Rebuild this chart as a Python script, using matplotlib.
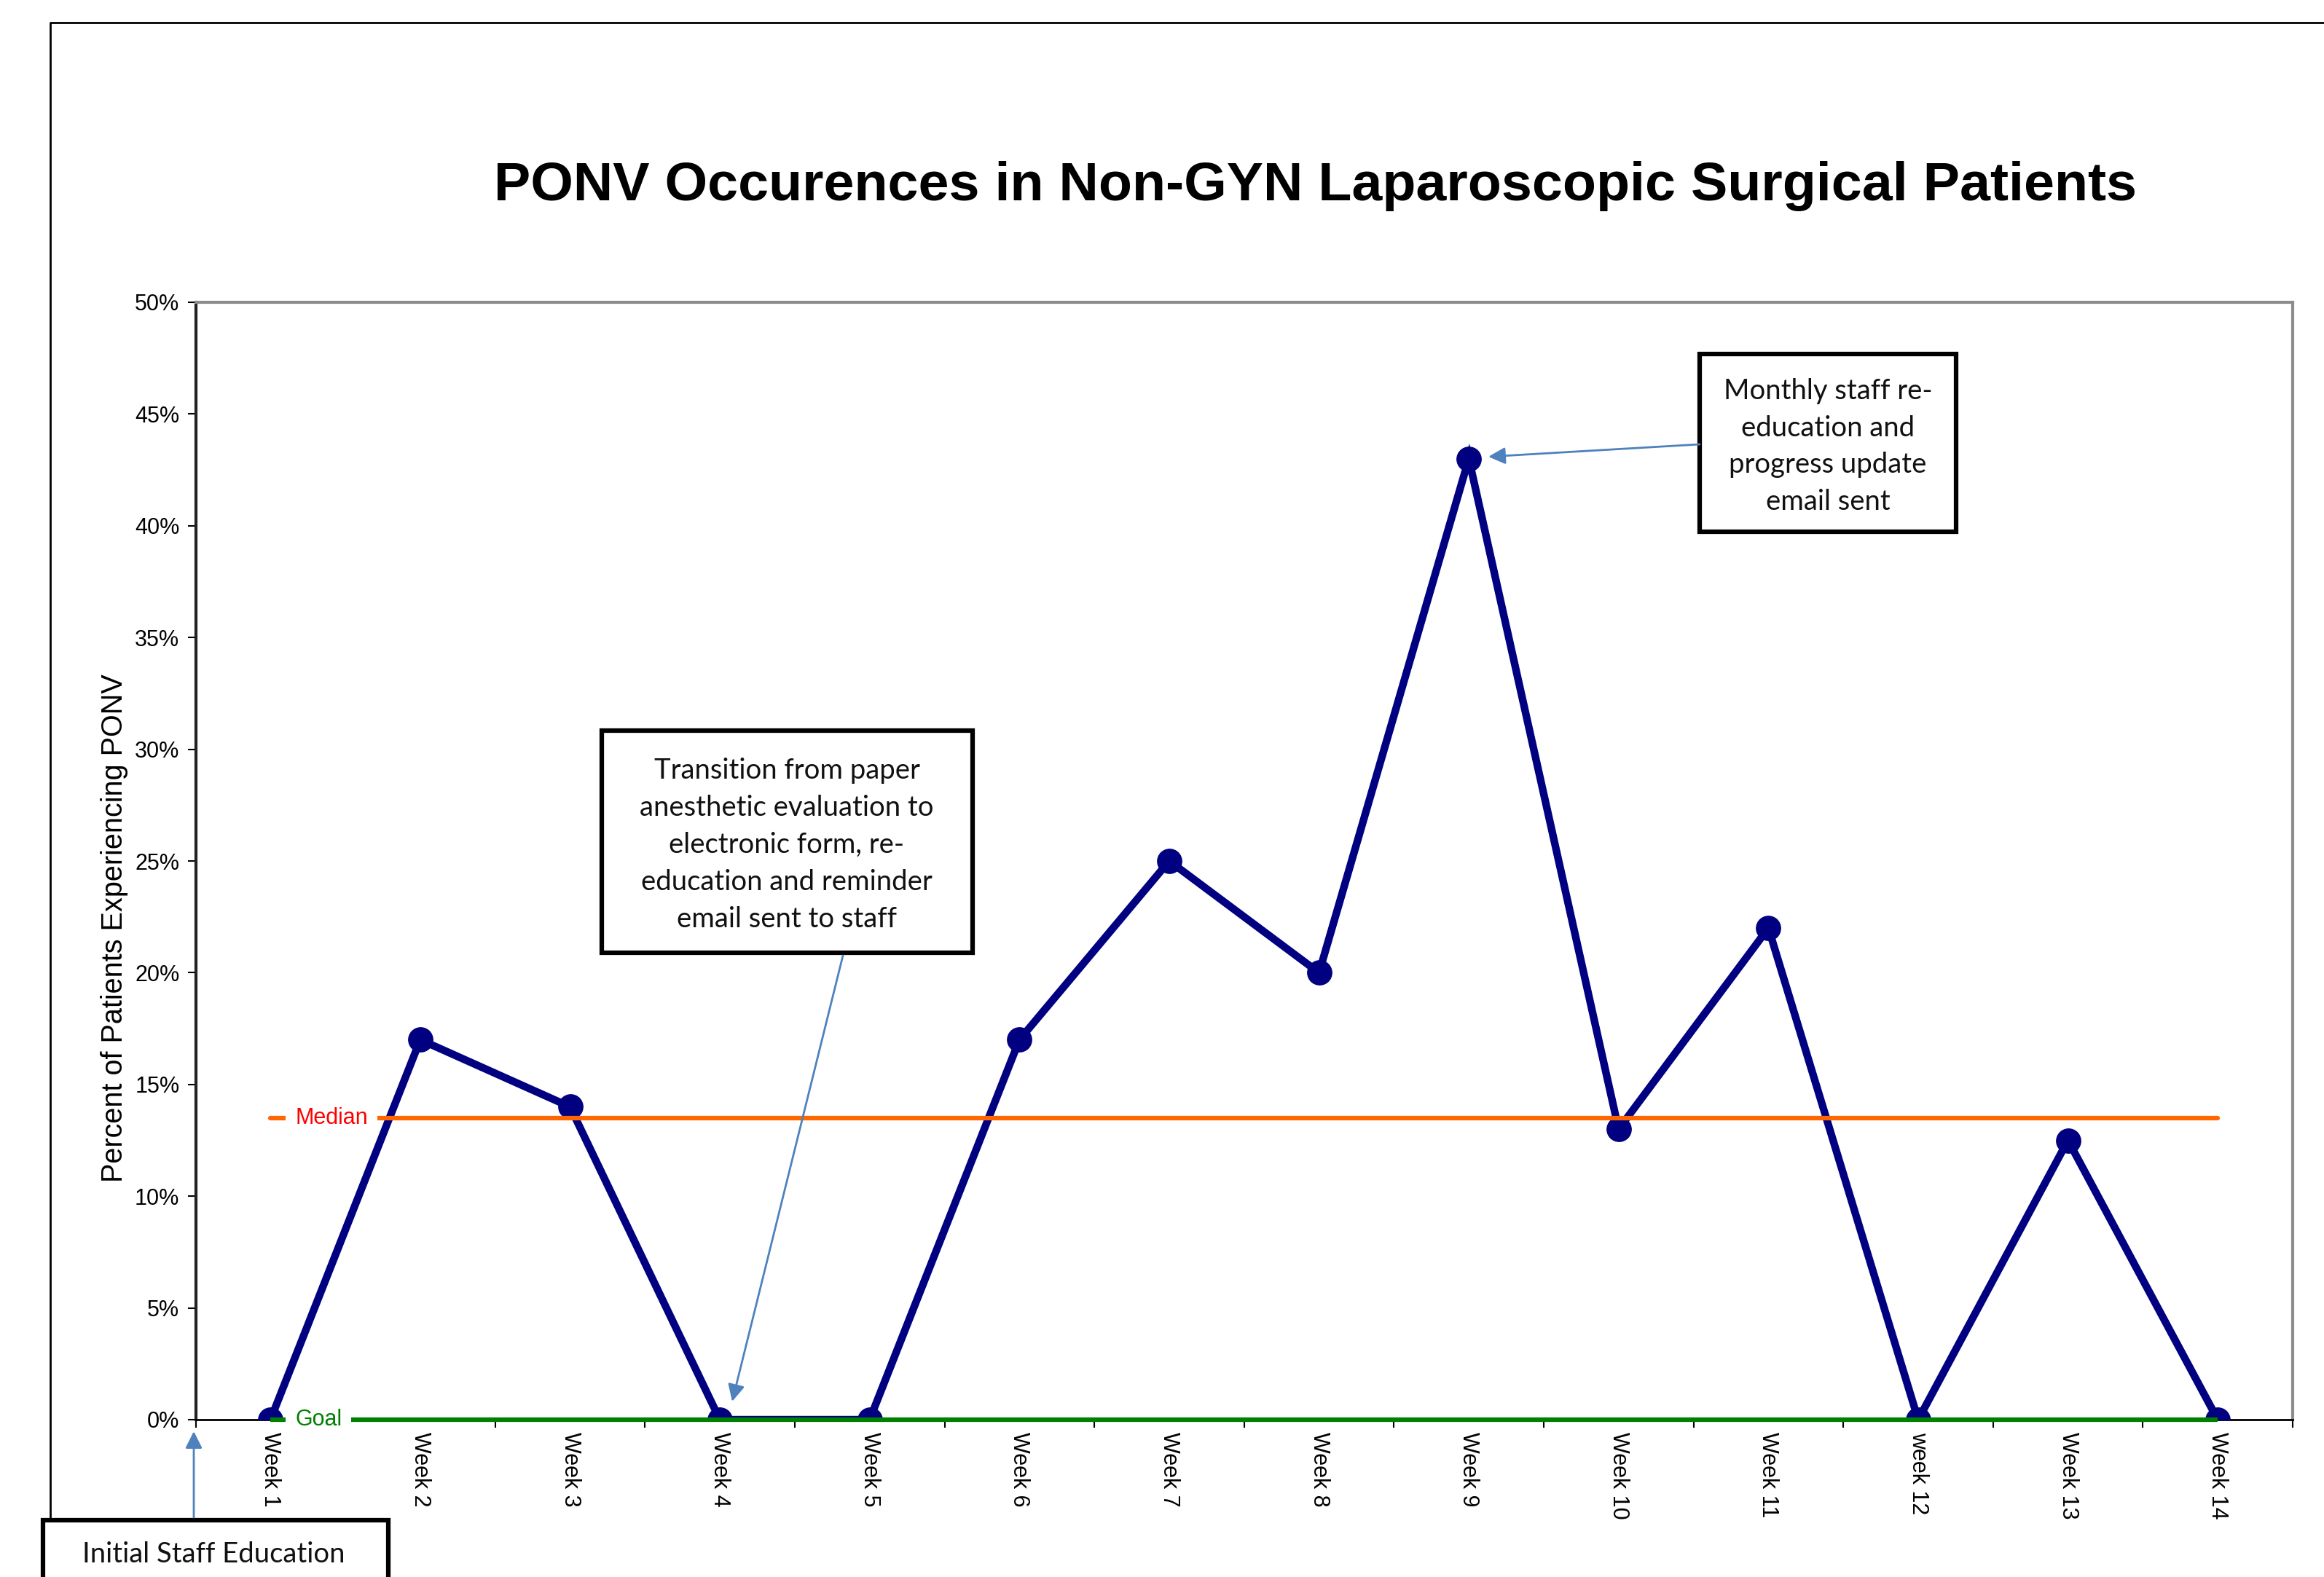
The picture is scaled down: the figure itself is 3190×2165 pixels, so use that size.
import matplotlib
matplotlib.use("Agg")
import matplotlib.pyplot as plt
from matplotlib.lines import Line2D
from matplotlib.patches import Rectangle, FancyArrowPatch
from matplotlib.ticker import FixedLocator, PercentFormatter, NullFormatter, FixedFormatter

# ---------------- data ----------------
weeks = ["Week 1", "Week 2", "Week 3", "Week 4", "Week 5", "Week 6", "Week 7",
         "Week 8", "Week 9", "Week 10", "Week 11", "week 12", "Week 13", "Week 14"]
ponv_pct = [0.0, 17.0, 14.0, 0.0, 0.0, 17.0, 25.0, 20.0, 43.0, 13.0, 22.0, 0.0, 12.5, 0.0]
median_pct = 13.5
goal_pct = 0.0
y_ticks = [0, 5, 10, 15, 20, 25, 30, 35, 40, 45, 50]

title = "PONV Occurences in Non-GYN Laparoscopic Surgical Patients"
ylabel = "Percent of Patients Experiencing PONV"
note_transition = ("Transition from paper\nanesthetic evaluation to\nelectronic form, re-\n"
                   "education and reminder\nemail sent to staff")
note_monthly = "Monthly staff re-\neducation and\nprogress update\nemail sent"
note_initial = "Initial Staff Education"

# ---------------- figure ----------------
W, H = 3190, 2165
fig = plt.figure(figsize=(W / 100, H / 100), dpi=100)
fig.patch.set_facecolor("white")

def fx(px):
    return px / W

def fy(py):
    return 1 - py / H

ax = fig.add_axes([fx(268.5), fy(1949), fx(3147) - fx(268.5), fy(415) - fy(1949)])

x = list(range(1, len(weeks) + 1))
ax.plot(x, ponv_pct, color="#000080", lw=7.5, marker="o", markersize=24,
        solid_joinstyle="miter", zorder=3)

ax.plot([1, len(weeks)], [median_pct, median_pct], color="#FF6600", lw=4.5,
        solid_capstyle="round", zorder=4)
ax.plot([1, len(weeks)], [goal_pct, goal_pct], color="#008000", lw=4.5,
        solid_capstyle="butt", zorder=4, clip_on=False)

lab_font = dict(family=["Liberation Sans", "DejaVu Sans"], size=22)
ax.text(1.165, median_pct, "Median", color="red", va="center", ha="left", zorder=5,
        bbox=dict(boxstyle="square,pad=0.42", fc="white", ec="none"), **lab_font)
ax.text(1.165, goal_pct, "Goal", color="#008000", va="center", ha="left", zorder=5,
        bbox=dict(boxstyle="square,pad=0.42", fc="white", ec="none"), clip_on=False, **lab_font)

ax.set_xlim(0.5, len(weeks) + 0.5)
ax.set_ylim(0, 50)

ax.yaxis.set_major_locator(FixedLocator(y_ticks))
ax.yaxis.set_major_formatter(PercentFormatter(decimals=0))
ax.xaxis.set_major_locator(FixedLocator([i + 0.5 for i in range(0, len(weeks) + 1)]))
ax.xaxis.set_major_formatter(NullFormatter())
ax.xaxis.set_minor_locator(FixedLocator(x))
ax.xaxis.set_minor_formatter(FixedFormatter(weeks))

tick_font = ["Liberation Sans", "DejaVu Sans"]
ax.tick_params(axis="y", which="major", direction="out", length=8, width=1.5,
               labelsize=22, pad=8, colors="black")
ax.tick_params(axis="x", which="major", direction="out", length=8, width=1.5)
ax.tick_params(axis="x", which="minor", length=0, labelsize=22, pad=12)
for lab in ax.get_yticklabels():
    lab.set_family(tick_font)
for lab in ax.xaxis.get_minorticklabels():
    lab.set_family(tick_font)
    lab.set_rotation(270)
    lab.set_va("top")
    lab.set_ha("center")

ax.spines["top"].set_color("#8c8c8c")
ax.spines["right"].set_color("#8c8c8c")
ax.spines["top"].set_linewidth(3)
ax.spines["right"].set_linewidth(3)
ax.spines["left"].set_color("#222222")
ax.spines["left"].set_linewidth(3)
ax.spines["bottom"].set_color("black")
ax.spines["bottom"].set_linewidth(2)

# y-axis title, placed where the reference has it (slightly below axes centre)
fig.text(fx(157), fy(1274), ylabel, rotation=90, ha="center", va="center",
         family=tick_font, size=28.5)

fig.text(fx(1806), fy(256), title, ha="center", va="center",
         family=tick_font, weight="bold", size=54.3)

# outer frame (partial page border)
fig.add_artist(Line2D([fx(69), fx(69), fx(W + 10)], [fy(H + 10), fy(31), fy(31)],
                      transform=fig.transFigure, color="black", lw=2))

# ---------------- annotation boxes ----------------
box_font = ["Lato", "DejaVu Sans"]

def note_box(x0, y0, x1, y1, text, tx, ty):
    fig.add_artist(Rectangle((fx(x0), fy(y1)), fx(x1) - fx(x0), fy(y0) - fy(y1),
                             transform=fig.transFigure, fc="white", ec="black", lw=4.5,
                             zorder=6))
    fig.text(fx(tx), fy(ty), text, ha="center", va="center", family=box_font,
             size=27.5, linespacing=1.51, zorder=7, color="#111111")

def arrow(x0, y0, x1, y1):
    fig.add_artist(FancyArrowPatch((fx(x0), fy(y0)), (fx(x1), fy(y1)),
                                   transform=fig.transFigure,
                                   arrowstyle="-|>,head_length=14,head_width=7",
                                   color="#4F81BD", lw=2, mutation_scale=1,
                                   shrinkA=0, shrinkB=0, zorder=8))

note_box(826, 1003, 1335, 1308, note_transition, 1080, 1160)
arrow(1157, 1312, 1005, 1924)

note_box(2333, 486, 2685, 730, note_monthly, 2509, 613)
arrow(2333, 610, 2043, 627)

note_box(59, 2087, 533, H + 40, note_initial, 293, 2134)
arrow(266, 2083, 266, 1965)

fig.savefig("out.png", dpi=100)
